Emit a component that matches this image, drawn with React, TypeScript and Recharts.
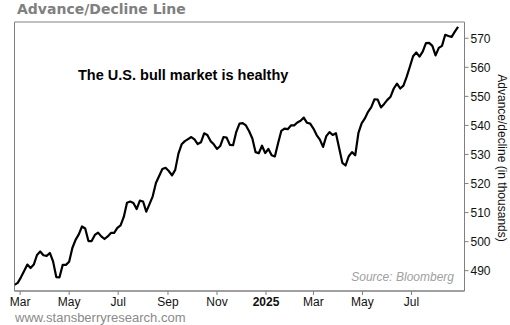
import { LineChart, Line, XAxis, YAxis, ReferenceArea } from "recharts"

// NYSE advance/decline line, sampled every 4 calendar days from START_DATE
const START_DATE = "2024-02-23"
const STEP_DAYS = 4
const adLine = [
  485.1, 485.8, 487.7, 489.9, 492.1, 490.9, 492.1, 495.4, 496.6, 495.3,
  495.1, 496.1, 493.2, 487.8, 487.7, 492.0, 492.0, 493.1, 497.8, 500.6,
  502.5, 505.2, 504.5, 500.2, 500.2, 502.3, 503.1, 501.8, 500.9, 501.8,
  503.0, 503.0, 504.7, 505.6, 508.5, 513.4, 513.8, 513.3, 511.2, 514.1,
  513.8, 510.3, 512.9, 515.6, 520.2, 522.6, 525.0, 525.4, 524.3, 522.8,
  524.7, 530.3, 533.5, 534.6, 535.3, 536.0, 535.2, 533.6, 534.2, 537.3,
  536.7, 534.6, 533.5, 531.9, 532.9, 536.0, 535.8, 533.3, 533.2, 537.8,
  540.6, 540.8, 540.0, 538.0, 535.5, 530.8, 530.4, 533.0, 530.5, 531.9,
  529.7, 529.3, 533.9, 538.1, 538.9, 538.7, 540.0, 540.0, 541.0, 541.6,
  542.7, 540.9, 540.6, 538.9, 536.7, 535.1, 532.6, 536.3, 537.7, 536.7,
  537.3, 532.2, 527.1, 526.2, 529.4, 530.8, 529.7, 537.4, 540.7, 542.4,
  544.7, 546.3, 549.0, 548.9, 546.2, 547.4, 548.8, 549.9, 552.7, 554.4,
  552.7, 553.7, 556.7, 560.2, 563.8, 565.1, 563.7, 565.4, 568.3, 568.4,
  567.4, 564.1, 566.7, 567.4, 571.2, 570.8, 570.5, 572.3, 573.9,
]

const monthTicks = [
  "2024-03-01", "2024-05-01", "2024-07-01", "2024-09-01", "2024-11-01",
  "2025-01-01", "2025-03-01", "2025-05-01", "2025-07-01",
]
const monthLabels = ["Mar", "May", "Jul", "Sep", "Nov", "2025", "Mar", "May", "Jul"]
const yTicks = [490, 500, 510, 520, 530, 540, 550, 560, 570]

const DAY = 86400000
const ts = (s: string) => Date.parse(s + "T00:00:00Z")

const data = adLine.map((v, i) => ({ t: ts(START_DATE) + i * STEP_DAYS * DAY, v }))
const xTicks = monthTicks.map(ts)
const xDomain: [number, number] = [ts("2024-02-23"), ts("2025-09-05")]
const yDomain: [number, number] = [483, 575.6]

const FONT = "'Liberation Sans', Arial, sans-serif"

function XTick(props: any) {
  const { x, y, payload } = props
  const label = monthLabels[xTicks.indexOf(payload.value)]
  return (
    <text
      x={x}
      y={y}
      dy="0.71em"
      textAnchor="middle"
      fontSize={12}
      fontFamily={FONT}
      fontWeight={label === "2025" ? "bold" : "normal"}
      fill="#111"
    >
      {label}
    </text>
  )
}

export default function App() {
  return (
    <div
      style={{
        position: "absolute", left: 0, top: 0, width: 510, height: 325,
        background: "#fff", fontFamily: FONT,
      }}
    >
      <LineChart
        width={510}
        height={325}
        data={data}
        margin={{ top: 22, right: 0, left: 14.5, bottom: 0 }}
      >
        <XAxis
          dataKey="t"
          type="number"
          domain={xDomain}
          ticks={xTicks}
          interval={0}
          tick={<XTick />}
          tickSize={4}
          tickMargin={2}
          height={34}
          stroke="#808080"
          allowDataOverflow
        />
        <YAxis
          orientation="right"
          type="number"
          domain={yDomain}
          ticks={yTicks}
          interval={0}
          tickSize={4}
          tickMargin={2}
          width={45.5}
          stroke="#808080"
          tick={{ fontSize: 12, fill: "#111", fontFamily: FONT }}
          allowDataOverflow
        />
        <ReferenceArea
          x1={xDomain[0]}
          x2={xDomain[1]}
          y1={yDomain[0]}
          y2={yDomain[1]}
          stroke="#808080"
          fill="none"
          fillOpacity={0}
        />
        <Line
          type="linear"
          dataKey="v"
          stroke="#000"
          strokeWidth={2.2}
          strokeLinejoin="round"
          dot={false}
          isAnimationActive={false}
        />
      </LineChart>

      <div
        style={{
          position: "absolute", left: 17, top: 2, fontSize: 14, lineHeight: "14px",
          fontWeight: "bold", color: "#808080", fontFamily: "'DejaVu Sans', Verdana, sans-serif",
          whiteSpace: "nowrap",
        }}
      >
        Advance/Decline Line
      </div>
      <div
        style={{
          position: "absolute", left: 78, top: 67, fontSize: 14.5, lineHeight: "16px",
          fontWeight: "bold", color: "#000", whiteSpace: "nowrap",
        }}
      >
        The U.S. bull market is healthy
      </div>
      <div
        style={{
          position: "absolute", right: 510 - 454, top: 270, fontSize: 12, lineHeight: "14px",
          fontStyle: "italic", color: "#a0a0a0", whiteSpace: "nowrap",
        }}
      >
        Source: Bloomberg
      </div>
      <div
        style={{
          position: "absolute", left: 15, top: 310, fontSize: 13, lineHeight: "15px",
          color: "#8a8a8a", whiteSpace: "nowrap",
        }}
      >
        www.stansberryresearch.com
      </div>
      <div
        style={{
          position: "absolute", left: 501.5, top: 158, fontSize: 12, lineHeight: "14px",
          color: "#111", whiteSpace: "nowrap",
          transform: "translate(-50%, -50%) rotate(90deg)",
        }}
      >
        Advance/decline (in thousands)
      </div>
    </div>
  )
}
